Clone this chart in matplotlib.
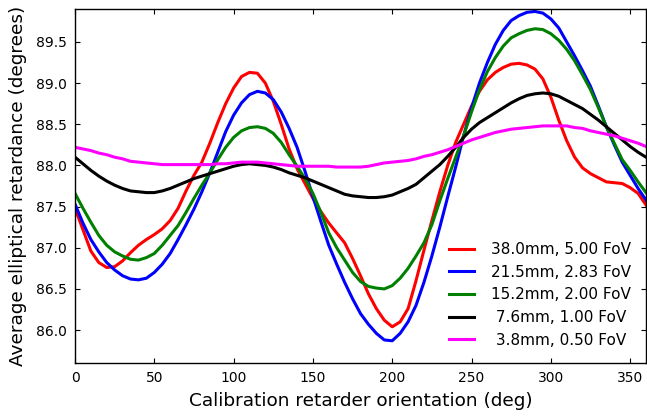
import matplotlib
matplotlib.use("Agg")
import matplotlib.pyplot as plt

angles = list(range(0, 361, 5))

red_38mm = [87.48, 87.22, 86.96, 86.82, 86.76, 86.77, 86.84, 86.94, 87.03, 87.10,
            87.16, 87.23, 87.33, 87.48, 87.69, 87.88, 88.04, 88.27, 88.52, 88.75,
            88.94, 89.08, 89.13, 89.12, 89.00, 88.78, 88.50, 88.20, 87.96, 87.78,
            87.60, 87.44, 87.30, 87.18, 87.06, 86.87, 86.66, 86.44, 86.26, 86.12,
            86.04, 86.10, 86.26, 86.60, 86.97, 87.33, 87.68, 88.00, 88.28, 88.50,
            88.72, 88.90, 89.04, 89.13, 89.19, 89.23, 89.24, 89.22, 89.17, 89.05,
            88.83, 88.55, 88.30, 88.10, 87.97, 87.90, 87.85, 87.80, 87.79, 87.78,
            87.73, 87.66, 87.52]
blue_21mm = [87.53, 87.30, 87.10, 86.95, 86.82, 86.73, 86.66, 86.62, 86.61, 86.63,
             86.70, 86.80, 86.93, 87.10, 87.28, 87.47, 87.68, 87.91, 88.16, 88.41,
             88.61, 88.76, 88.86, 88.90, 88.88, 88.80, 88.65, 88.45, 88.22, 87.93,
             87.62, 87.32, 87.03, 86.80, 86.58, 86.38, 86.20, 86.07, 85.96, 85.88,
             85.87, 85.96, 86.10, 86.30, 86.58, 86.90, 87.25, 87.62, 87.98, 88.36,
             88.70, 89.00, 89.25, 89.47, 89.64, 89.76, 89.82, 89.86, 89.87, 89.85,
             89.78, 89.67, 89.50, 89.33, 89.15, 88.96, 88.72, 88.47, 88.25, 88.04,
             87.88, 87.72, 87.58]
green_15mm = [87.66, 87.48, 87.31, 87.15, 87.03, 86.95, 86.90, 86.86, 86.85, 86.88,
              86.93, 87.03, 87.15, 87.27, 87.43, 87.60, 87.76, 87.91, 88.07, 88.22,
              88.34, 88.42, 88.46, 88.47, 88.45, 88.39, 88.28, 88.13, 87.99, 87.84,
              87.66, 87.43, 87.18, 87.00, 86.85, 86.70, 86.59, 86.53, 86.51, 86.50,
              86.54, 86.63, 86.75, 86.90, 87.06, 87.28, 87.57, 87.84, 88.10, 88.36,
              88.65, 88.92, 89.14, 89.31, 89.45, 89.55, 89.60, 89.64, 89.66, 89.65,
              89.60, 89.52, 89.41, 89.27, 89.10, 88.92, 88.70, 88.47, 88.27, 88.07,
              87.94, 87.80, 87.67]
black_7mm = [88.10, 88.02, 87.94, 87.87, 87.81, 87.76, 87.72, 87.69, 87.68, 87.67,
             87.67, 87.69, 87.72, 87.76, 87.80, 87.84, 87.87, 87.90, 87.93, 87.96,
             87.99, 88.01, 88.02, 88.01, 88.00, 87.98, 87.95, 87.91, 87.88, 87.85,
             87.81, 87.77, 87.73, 87.69, 87.65, 87.63, 87.62, 87.61, 87.61, 87.62,
             87.64, 87.68, 87.72, 87.77, 87.85, 87.93, 88.01, 88.11, 88.22, 88.34,
             88.44, 88.52, 88.58, 88.64, 88.70, 88.76, 88.81, 88.85, 88.87, 88.88,
             88.87, 88.84, 88.79, 88.74, 88.69, 88.62, 88.55, 88.47, 88.39, 88.31,
             88.23, 88.16, 88.10]
magenta_3mm = [88.22, 88.20, 88.18, 88.15, 88.13, 88.10, 88.08, 88.05, 88.04, 88.03,
               88.02, 88.01, 88.01, 88.01, 88.01, 88.01, 88.01, 88.01, 88.02, 88.02,
               88.03, 88.04, 88.04, 88.04, 88.03, 88.02, 88.01, 88.00, 87.99, 87.99,
               87.99, 87.99, 87.99, 87.98, 87.98, 87.98, 87.98, 87.99, 88.01, 88.03,
               88.04, 88.05, 88.06, 88.08, 88.11, 88.13, 88.16, 88.19, 88.23, 88.27,
               88.31, 88.34, 88.37, 88.40, 88.42, 88.44, 88.45, 88.46, 88.47, 88.48,
               88.48, 88.48, 88.48, 88.46, 88.45, 88.42, 88.40, 88.38, 88.36, 88.33,
               88.30, 88.27, 88.23]

series = [red_38mm, blue_21mm, green_15mm, black_7mm, magenta_3mm]
labels = ["38.0mm, 5.00 FoV", "21.5mm, 2.83 FoV", "15.2mm, 2.00 FoV",
          " 7.6mm, 1.00 FoV", " 3.8mm, 0.50 FoV"]
colors = ["#ff0000", "#0000ff", "#008000", "#000000", "#ff00ff"]

x_ticks = [0, 50, 100, 150, 200, 250, 300, 350]
y_ticks = [86.0, 86.5, 87.0, 87.5, 88.0, 88.5, 89.0, 89.5]

plt.rcParams['font.family'] = ['DejaVu Sans']
fig = plt.figure(figsize=(6.47, 4.16), dpi=100)
ax = fig.add_axes([75/647, 53/416, 571/647, 354/416])

for vals, lab, col in zip(series, labels, colors):
    ax.plot(angles, vals, color=col, lw=2.2, label=lab)

ax.set_xlim(0, 360)
ax.set_ylim(85.6, 89.9)
ax.set_xticks(x_ticks)
ax.set_yticks(y_ticks)
ax.set_yticklabels([f"{v:.1f}" for v in y_ticks])
ax.tick_params(direction='in', length=3.5, width=0.8, top=True, right=True,
               labelsize=10, pad=6)
for s in ax.spines.values():
    s.set_linewidth(1.0)

ax.set_xlabel("Calibration retarder orientation (deg)", fontsize=13.3, labelpad=5)
ax.set_ylabel("Average elliptical retardance (degrees)", fontsize=13.3, labelpad=6)

leg = ax.legend(loc='lower right', frameon=False, fontsize=11, handlelength=1.65,
                handletextpad=1.1, labelspacing=0.5, borderaxespad=0.6)

fig.savefig("out.png", dpi=100)
